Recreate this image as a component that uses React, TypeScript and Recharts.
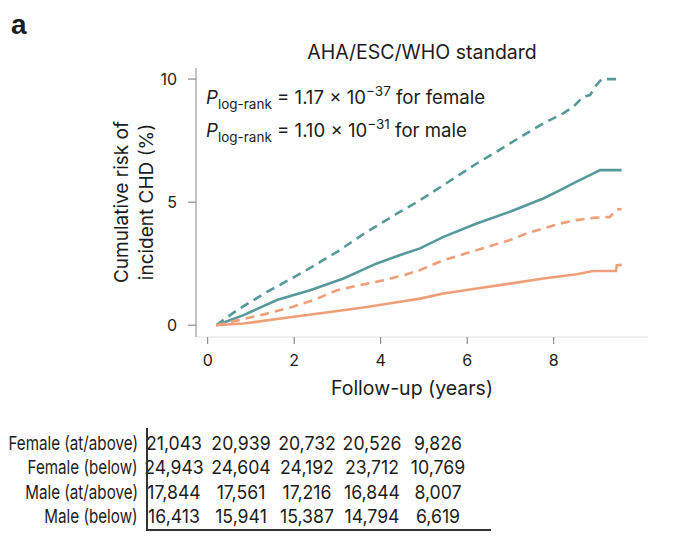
import { LineChart, Line, XAxis, YAxis } from "recharts";

// follow-up times (years) and cumulative risk (%) per group
const femaleAboveT = [0.2, 0.83, 1.6, 2.37, 3.14, 3.91, 4.45, 4.91, 5.45, 6.22, 6.99, 7.38, 7.76, 8.15, 8.53, 8.84, 9.07, 9.57];
const femaleAboveRisk = [0, 0.41, 1.02, 1.42, 1.9, 2.51, 2.85, 3.12, 3.59, 4.13, 4.61, 4.88, 5.15, 5.49, 5.83, 6.1, 6.3, 6.3];

const femaleBelowT = [0.2, 0.83, 1.99, 3.14, 3.68, 4.45, 4.91, 5.45, 6.22, 6.99, 7.76, 8.53, 8.91, 9.44, 9.46, 9.57];
const femaleBelowRisk = [0, 0.07, 0.34, 0.61, 0.74, 0.95, 1.08, 1.29, 1.49, 1.69, 1.9, 2.07, 2.2, 2.2, 2.44, 2.45];

const maleAboveT = [0.2, 0.68, 1.37, 2.22, 2.99, 3.68, 4.45, 4.91, 5.45, 6.22, 6.68, 6.99, 7.76, 8.22, 8.45, 8.68, 8.84, 8.99, 9.11, 9.57];
const maleAboveRisk = [0, 0.61, 1.35, 2.17, 2.98, 3.79, 4.61, 5.08, 5.69, 6.57, 7.05, 7.39, 8.2, 8.61, 8.87, 9.28, 9.35, 9.76, 10.0, 10.0];

const maleBelowT = [0.2, 0.75, 1.37, 1.95, 2.45, 2.99, 3.53, 4.07, 4.53, 4.91, 5.45, 6.22, 6.99, 7.38, 7.76, 8.15, 8.53, 8.91, 9.3, 9.45, 9.57];
const maleBelowRisk = [0, 0.22, 0.47, 0.74, 1.02, 1.42, 1.63, 1.83, 2.03, 2.24, 2.64, 3.05, 3.46, 3.73, 3.93, 4.13, 4.27, 4.36, 4.4, 4.7, 4.72];

const xTicks = [0, 2, 4, 6, 8];
const yTicks = [0, 5, 10];

// numbers at risk
const tableLabels = ["Female (at/above)", "Female (below)", "Male (at/above)", "Male (below)"];
const femaleAboveAtRisk = ["21,043", "20,939", "20,732", "20,526", "9,826"];
const femaleBelowAtRisk = ["24,943", "24,604", "24,192", "23,712", "10,769"];
const maleAboveAtRisk = ["17,844", "17,561", "17,216", "16,844", "8,007"];
const maleBelowAtRisk = ["16,413", "15,941", "15,387", "14,794", "6,619"];
const tableRows = [femaleAboveAtRisk, femaleBelowAtRisk, maleAboveAtRisk, maleBelowAtRisk];

const TEAL = "#56999b";
const ORANGE = "#ee9f78";
const INK = "#1c1c1c";
const FONT = "Inter, sans-serif";

function zip(t: number[], r: number[]) {
  return t.map((v, i) => ({ t: v, risk: r[i] }));
}

const series = [
  { name: "Male (at/above)", data: zip(maleAboveT, maleAboveRisk), color: TEAL, dash: "9 6" },
  { name: "Female (at/above)", data: zip(femaleAboveT, femaleAboveRisk), color: TEAL, dash: undefined },
  { name: "Male (below)", data: zip(maleBelowT, maleBelowRisk), color: ORANGE, dash: "9 6" },
  { name: "Female (below)", data: zip(femaleBelowT, femaleBelowRisk), color: ORANGE, dash: undefined },
];

const colX = [174, 241, 307, 372, 438];
const rowY = [444, 468, 493, 517];
const TABLE_FONT = 19;

export default function App() {
  return (
    <div
      style={{
        position: "absolute",
        left: 0,
        top: 0,
        width: 680,
        height: 559,
        background: "#fff",
        fontFamily: FONT,
        color: INK,
      }}
    >
      <div
        style={{
          position: "absolute",
          left: 11,
          top: 8,
          fontSize: 28,
          lineHeight: "34px",
          fontWeight: 900,
          fontFamily: "'Liberation Sans', Arial, sans-serif",
        }}
      >
        a
      </div>

      <LineChart width={680} height={559} margin={{ top: 68, right: 32, left: 0, bottom: 0 }}>
        <XAxis
          type="number"
          dataKey="t"
          domain={[-0.27, 10.18]}
          ticks={xTicks}
          allowDataOverflow
          height={222}
          tickSize={7}
          tickMargin={11}
          axisLine={{ stroke: "#e2e2e2" }}
          tickLine={{ stroke: "#777" }}
          tick={{ fill: INK, fontSize: 16, fontFamily: FONT }}
        />
        <YAxis
          type="number"
          dataKey="risk"
          domain={[-0.48, 10.45]}
          ticks={yTicks}
          allowDataOverflow
          width={196}
          tickSize={8}
          tickMargin={11}
          axisLine={{ stroke: "#8a8a8a" }}
          tickLine={{ stroke: "#777" }}
          tick={{ fill: INK, fontSize: 16, fontFamily: FONT }}
        />
        <YAxis
          yAxisId="right"
          orientation="right"
          domain={[-0.48, 10.45]}
          width={0}
          tick={false}
          tickLine={false}
          axisLine={{ stroke: "#b5b5b5" }}
        />
        {series.map((s) => (
          <Line
            key={s.name}
            name={s.name}
            data={s.data}
            dataKey="risk"
            type="linear"
            stroke={s.color}
            strokeWidth={2.6}
            strokeDasharray={s.dash}
            dot={false}
            activeDot={false}
            isAnimationActive={false}
          />
        ))}
      </LineChart>

      {/* title */}
      <div style={{ position: "absolute", left: 222, width: 400, top: 39, textAlign: "center", fontSize: 19.5, lineHeight: "26px" }}>
        AHA/ESC/WHO standard
      </div>

      {/* log-rank annotations */}
      {[
        ["1.17", "37", "female"],
        ["1.10", "31", "male"],
      ].map(([p, e, g], i) => (
        <div
          key={g}
          style={{ position: "absolute", left: 206, top: 79 + i * 33, fontSize: 18.6, lineHeight: "24px", whiteSpace: "nowrap" }}
        >
          <i>P</i>
          <sub style={{ fontSize: 13.5, verticalAlign: "-5px" }}>log-rank</sub> = {p} × 10
          <sup style={{ fontSize: 13.5, verticalAlign: "8px" }}>−{e}</sup> for {g}
        </div>
      ))}

      {/* y label */}
      <div
        style={{
          position: "absolute",
          left: 134 - 110,
          top: 202 - 25,
          width: 220,
          height: 50,
          textAlign: "center",
          fontSize: 19,
          lineHeight: "25px",
          transform: "rotate(-90deg)",
        }}
      >
        Cumulative risk of
        <br />
        incident CHD (%)
      </div>

      {/* x label */}
      <div style={{ position: "absolute", left: 262, width: 300, top: 375, textAlign: "center", fontSize: 19.5, lineHeight: "26px" }}>
        Follow-up (years)
      </div>

      {/* numbers at risk table */}
      {tableLabels.map((lab, r) => (
        <div
          key={lab}
          style={{
            position: "absolute",
            right: 680 - 138,
            top: rowY[r] - 13,
            fontSize: TABLE_FONT,
            lineHeight: "26px",
            whiteSpace: "nowrap",
            transform: "scaleX(0.8)",
            transformOrigin: "right center",
          }}
        >
          {lab}
        </div>
      ))}
      {tableRows.map((row, r) =>
        row.map((v, c) => (
          <div
            key={`${r}-${c}`}
            style={{
              position: "absolute",
              left: colX[c] - 40,
              width: 80,
              top: rowY[r] - 13,
              textAlign: "center",
              fontSize: TABLE_FONT,
              lineHeight: "26px",
              transform: "scaleX(0.93)",
            }}
          >
            {v}
          </div>
        ))
      )}
      <div style={{ position: "absolute", left: 146, top: 428, width: 1.5, height: 102, background: "#333" }} />
      <div style={{ position: "absolute", left: 146, top: 529, width: 345, height: 1.5, background: "#333" }} />
    </div>
  );
}
